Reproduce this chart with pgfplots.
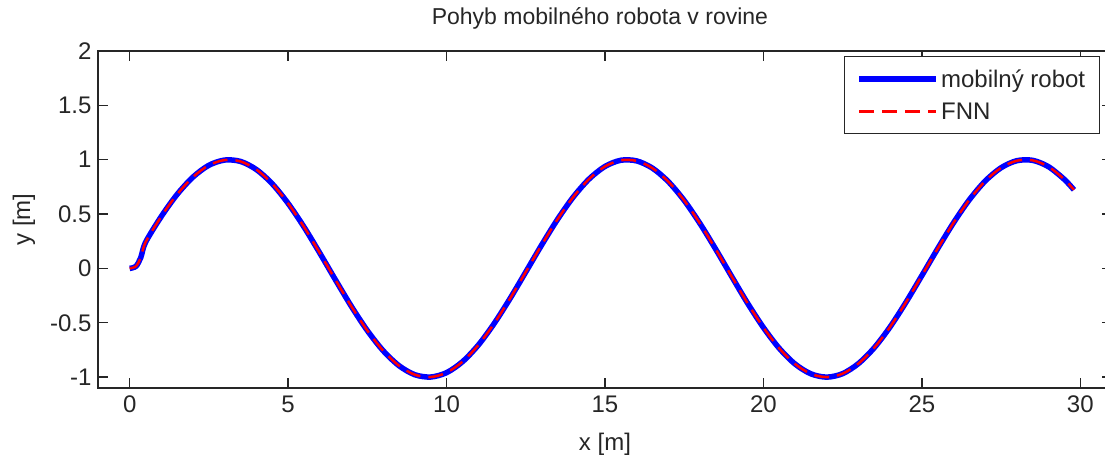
\documentclass[border=0pt]{standalone}
\usepackage{fontspec}
\setmainfont{Liberation Sans}
\usepackage{pgfplots}
\usepackage{pgfplotstable}
\pgfplotsset{compat=1.18}

% trajectory of the robot
\pgfplotstableread{
x y
0 0
0.2 0.02
0.35 0.1
0.5 0.24
1 0.479
1.5 0.682
2 0.841
2.5 0.949
3 0.997
3.5 0.984
4 0.909
4.5 0.778
5 0.598
5.5 0.382
6 0.141
6.5 -0.108
7 -0.351
7.5 -0.572
8 -0.757
8.5 -0.895
9 -0.978
9.5 -0.999
10 -0.959
10.5 -0.859
11 -0.706
11.5 -0.508
12 -0.279
12.5 -0.033
13 0.215
13.5 0.450
14 0.657
14.5 0.823
15 0.938
15.5 0.995
16 0.989
16.5 0.922
17 0.798
17.5 0.625
18 0.412
18.5 0.174
19 -0.075
19.5 -0.320
20 -0.544
20.5 -0.735
21 -0.880
21.5 -0.970
22 -1.000
22.5 -0.968
23 -0.875
23.5 -0.729
24 -0.537
24.5 -0.311
25 -0.066
25.5 0.182
26 0.420
26.5 0.632
27 0.804
27.5 0.926
28 0.991
28.5 0.994
29 0.935
29.5 0.818
29.8 0.723
}\robot

\begin{document}
\begin{tikzpicture}
\path[use as bounding box] (-98bp,-69bp) rectangle (1007bp,388bp);
\begin{axis}[
    at={(0,0)}, anchor=south west,
    scale only axis,
    width=1014bp, height=337bp,
    xmin=-1, xmax=31,
    ymin=-1.1, ymax=2,
    xtick={0,5,...,30},
    ytick={-1,-0.5,0,0.5,1,1.5,2},
    font=\fontsize{24bp}{28bp}\selectfont,
    /pgf/number format/assume math mode=true,
    axis line style={line width=1.3bp, black!85},
    major tick length=10bp,
    tick style={line width=1.3bp, black!85},
    tick label style={black!85},
    xticklabel style={yshift=-4bp},
    yticklabel style={xshift=-3bp},
    title={Pohyb mobilného robota v rovine},
    title style={at={(axis description cs:0.495,1.062)}, anchor=base, font=\fontsize{23bp}{27bp}\selectfont, black!85},
    xlabel={x [m]},
    xlabel style={at={(axis description cs:0.5,-0.184)}, anchor=base, black!85},
    ylabel={y [m]},
    ylabel style={at={(axis description cs:-0.073,0.5)}, anchor=center, black!85},
    legend style={at={(0.988,0.986)}, anchor=north east, draw=black!85, line width=1.3bp,
        inner xsep=12bp, inner ysep=11bp, row sep=10bp,
        font=\fontsize{24bp}{28bp}\selectfont, text=black!85},
    legend cell align=left,
    legend image code/.code={\draw[#1] (0bp,0bp) -- (77bp,0bp);},
]
\addplot[blue, line width=5.5bp, smooth] table {\robot};
\addlegendentry{mobilný robot}
\addplot[red, line width=2.5bp, dash pattern=on 15bp off 8bp, smooth] table {\robot};
\addlegendentry{FNN}
\end{axis}
\end{tikzpicture}
\end{document}
